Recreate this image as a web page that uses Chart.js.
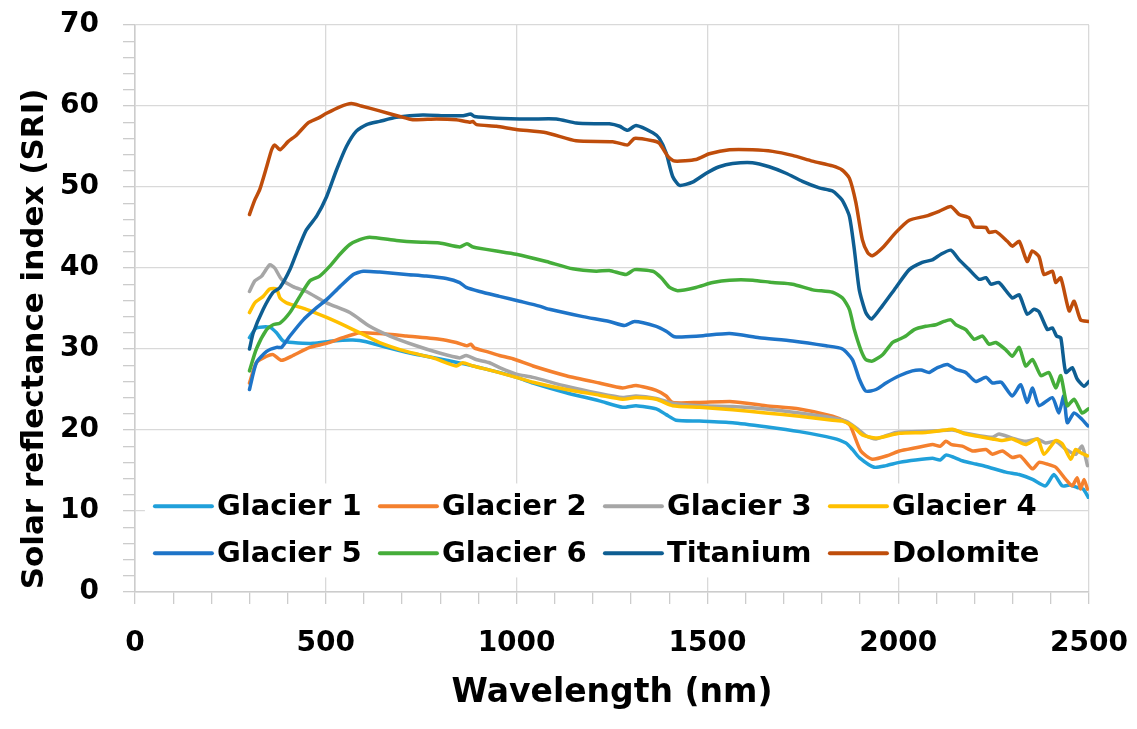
<!DOCTYPE html>
<html>
<head>
<meta charset="utf-8">
<script src="https://cdn.jsdelivr.net/npm/chart.js@4/dist/chart.umd.min.js"></script>
<style>
  html, body { margin: 0; padding: 0; background: #ffffff; }
  #c { display: block; }
</style>
</head>
<body>
<canvas id="c" width="1137" height="729"></canvas>
<script>
// ---------- data ----------
const seriesNames = ['Glacier 1', 'Glacier 2', 'Glacier 3', 'Glacier 4', 'Glacier 5', 'Glacier 6', 'Titanium', 'Dolomite'];
const seriesColors = ['#20a0da', '#f4802e', '#a6a6a6', '#ffc000', '#1e74c8', '#45ad3a', '#0e5e92', '#bf4d0b'];

const xTickLabels = [0, 500, 1000, 1500, 2000, 2500];
const yTickLabels = [0, 10, 20, 30, 40, 50, 60, 70];

const g1Wl = [300,318,353,371,388,414,467,519,571,606,659,711,763,816,868,938,1000,1043,1130,1217,1278,1313,1366,1392,1418,1479,1566,1653,1741,1828,1863,1880,1898,1937,1968,2003,2046,2090,2110,2125,2142,2168,2203,2230,2282,2317,2352,2386,2408,2430,2450,2469,2485,2498];
const g1Val = [31.4,32.6,32.7,32.0,31.0,30.8,30.7,31.0,31.1,30.9,30.2,29.6,29.1,28.6,28.1,27.3,26.5,25.8,24.6,23.6,22.8,23.0,22.6,21.9,21.2,21.1,20.9,20.4,19.8,19.0,18.4,17.6,16.6,15.4,15.6,16.0,16.3,16.5,16.3,16.9,16.7,16.2,15.8,15.5,14.8,14.5,13.9,13.1,14.5,13.1,13.2,12.9,12.7,11.7];

const g2Wl = [300,318,345,362,384,414,458,502,545,589,641,711,798,842,870,880,890,920,955,990,1043,1130,1217,1278,1313,1366,1392,1409,1479,1566,1653,1741,1828,1863,1875,1902,1932,1976,2003,2046,2090,2110,2125,2140,2168,2195,2230,2247,2273,2299,2320,2352,2369,2390,2413,2439,2456,2469,2478,2487,2496];
const g2Val = [25.8,28.3,29.1,29.3,28.6,29.2,30.2,30.7,31.4,32.0,31.9,31.6,31.2,30.8,30.4,30.6,30.1,29.7,29.2,28.8,27.9,26.7,25.8,25.2,25.5,24.9,24.2,23.4,23.4,23.5,23.0,22.6,21.7,21.0,20.5,17.4,16.4,16.9,17.4,17.8,18.2,18.0,18.6,18.2,18.0,17.4,17.6,17.0,17.4,16.6,16.8,15.2,16.0,15.8,15.4,13.9,13.1,14.1,12.7,13.9,12.7];

const g3Wl = [300,314,332,353,366,384,414,449,502,563,615,668,737,798,851,868,894,929,960,999,1043,1130,1217,1278,1313,1366,1409,1479,1566,1653,1741,1828,1863,1889,1915,1942,1994,2050,2100,2142,2177,2212,2247,2264,2299,2334,2365,2386,2413,2440,2465,2482,2496];
const g3Val = [37.1,38.4,39.0,40.4,40.0,38.6,37.7,37.1,35.7,34.5,32.8,31.6,30.4,29.5,28.9,29.2,28.7,28.3,27.6,26.9,26.5,25.4,24.5,24.0,24.2,23.9,23.3,23.0,22.9,22.6,22.1,21.5,21.1,20.3,19.3,18.9,19.7,19.8,19.9,20.0,19.6,19.3,19.1,19.5,19.0,18.6,18.9,18.4,18.6,17.6,17.0,18.0,15.6];

const g4Wl = [300,314,336,353,371,380,397,449,502,554,598,641,711,781,842,859,886,938,999,1043,1130,1217,1278,1313,1366,1409,1479,1566,1653,1741,1828,1854,1880,1906,1942,2003,2072,2110,2142,2177,2212,2247,2273,2299,2334,2365,2382,2413,2430,2452,2465,2478,2496];
const g4Val = [34.5,35.7,36.5,37.4,37.4,36.3,35.7,34.9,33.9,32.8,31.8,30.8,29.7,28.9,27.9,28.3,27.9,27.3,26.5,25.9,25.0,24.3,23.8,24.0,23.8,23.0,22.8,22.5,22.1,21.7,21.2,21.1,20.5,19.4,19.0,19.6,19.7,19.9,20.1,19.5,19.2,18.9,18.7,18.9,18.2,18.9,17.0,18.7,18.3,16.4,17.6,17.2,16.8];

const g5Wl = [300,318,345,371,384,406,441,476,502,537,572,598,641,711,763,816,851,868,903,955,1008,1060,1086,1174,1243,1283,1309,1366,1392,1414,1479,1558,1636,1723,1811,1854,1880,1898,1915,1942,1968,2003,2037,2060,2081,2103,2129,2151,2177,2203,2230,2247,2270,2299,2321,2338,2352,2369,2404,2421,2434,2443,2461,2482,2497];
const g5Val = [25.0,28.3,29.7,30.2,30.2,31.6,33.6,35.1,36.1,37.7,39.2,39.6,39.5,39.2,39.0,38.7,38.2,37.6,37.1,36.5,35.9,35.3,34.9,34.0,33.4,32.9,33.4,32.8,32.2,31.5,31.6,31.9,31.4,31.0,30.4,30.0,28.7,26.3,24.8,25.0,25.8,26.7,27.3,27.4,27.1,27.7,28.1,27.5,27.1,26.0,26.5,25.8,25.9,24.2,25.6,23.4,25.2,23.0,24.0,22.1,24.2,20.9,22.1,21.3,20.5];

const g6Wl = [300,318,345,362,380,406,432,458,484,510,537,563,589,615,685,737,798,851,870,885,894,947,999,1078,1147,1209,1243,1287,1309,1357,1379,1401,1422,1470,1514,1558,1619,1671,1723,1776,1828,1854,1872,1885,1902,1915,1932,1959,1985,2003,2020,2042,2072,2099,2120,2138,2151,2177,2199,2221,2238,2256,2282,2299,2317,2334,2352,2374,2395,2413,2426,2443,2461,2482,2498];
const g6Val = [27.3,30.0,32.4,33.0,33.2,34.5,36.5,38.4,39.0,40.2,41.7,42.9,43.5,43.8,43.4,43.2,43.1,42.6,43.0,42.6,42.5,42.1,41.7,40.8,39.9,39.6,39.7,39.2,39.8,39.6,38.8,37.6,37.2,37.6,38.2,38.5,38.5,38.2,38.0,37.3,37.0,36.3,34.9,32.4,29.9,28.7,28.5,29.3,30.8,31.2,31.6,32.4,32.8,33.0,33.4,33.6,33.0,32.4,31.2,31.6,30.6,30.8,29.9,29.1,30.2,27.9,28.7,26.7,27.1,25.2,26.7,23.0,23.8,22.1,22.6];

const tiWl = [300,310,336,362,380,406,427,449,476,502,528,554,580,607,641,685,754,816,860,880,890,947,1034,1104,1156,1209,1243,1270,1291,1313,1357,1374,1392,1409,1427,1461,1497,1531,1566,1618,1662,1706,1749,1793,1828,1853,1872,1885,1898,1915,1930,1958,1994,2029,2063,2089,2112,2138,2160,2186,2212,2230,2243,2264,2299,2317,2338,2356,2369,2391,2404,2415,2426,2439,2456,2469,2487,2500];
const tiVal = [30.0,32.0,34.9,37.0,37.6,39.8,42.3,44.7,46.4,48.8,52.1,55.0,56.9,57.7,58.1,58.6,58.9,58.8,58.8,59.0,58.7,58.5,58.4,58.4,57.9,57.8,57.8,57.5,57.0,57.6,56.7,56.0,54.2,51.3,50.2,50.6,51.7,52.5,52.9,53.0,52.5,51.7,50.7,49.9,49.5,48.4,46.4,42.3,37.3,34.5,33.7,35.3,37.6,39.8,40.7,41.0,41.7,42.2,41.0,39.8,38.6,38.8,38.0,38.2,36.3,36.7,34.3,34.9,34.6,32.4,32.6,31.6,31.4,27.1,27.7,26.3,25.4,26.0];

const doWl = [300,314,327,345,358,366,380,401,423,453,480,502,537,567,593,641,694,728,790,842,877,885,895,947,999,1078,1156,1252,1291,1309,1357,1374,1396,1414,1470,1505,1558,1618,1671,1723,1775,1828,1853,1872,1889,1906,1920,1932,1959,1994,2029,2072,2107,2138,2160,2186,2199,2230,2238,2256,2286,2299,2317,2338,2351,2369,2382,2404,2413,2426,2448,2461,2478,2500];
const doVal = [46.6,48.4,49.7,52.5,54.6,55.2,54.6,55.6,56.4,57.9,58.5,59.1,59.9,60.3,60.0,59.4,58.7,58.3,58.4,58.3,58.0,58.1,57.7,57.5,57.1,56.7,55.7,55.6,55.2,56.0,55.7,55.4,53.8,53.2,53.4,54.1,54.6,54.6,54.4,53.9,53.2,52.6,52.1,51.1,48.1,43.5,41.9,41.5,42.5,44.4,45.9,46.4,47.0,47.6,46.6,46.2,45.1,45.0,44.4,44.5,43.3,42.7,43.3,40.8,42.1,41.4,39.2,39.6,38.2,38.8,34.7,35.9,33.6,33.4];

const seriesWl = [g1Wl, g2Wl, g3Wl, g4Wl, g5Wl, g6Wl, tiWl, doWl];
const seriesVal = [g1Val, g2Val, g3Val, g4Val, g5Val, g6Val, tiVal, doVal];

// ---------- chart ----------
const FONT = 'DejaVu Sans';
const GRID = '#d9d9d9';
const TICK = '#cccccc';

const datasets = seriesNames.map((name, i) => ({
  label: name,
  data: seriesWl[i].map((w, k) => ({ x: w, y: seriesVal[i][k] })),
  borderColor: seriesColors[i],
  backgroundColor: seriesColors[i],
  borderWidth: 3.5,
  pointRadius: 0,
  tension: 0.2,
  borderCapStyle: 'round',
  borderJoinStyle: 'round',
  fill: false,
  order: seriesNames.length - i
}));

const legendPlugin = {
  id: 'insideLegend',
  afterDraw(chart) {
    const ctx = chart.ctx;
    const xs = chart.scales.x, ys = chart.scales.y;
    ctx.save();
    const boxL = xs.getPixelForValue(26), boxR = xs.getPixelForValue(2310);
    const boxT = ys.getPixelForValue(13.4), boxB = ys.getPixelForValue(1.8);
    ctx.fillStyle = '#ffffff';
    ctx.fillRect(boxL, boxT, boxR - boxL, boxB - boxT);
    ctx.font = 'bold 29px "' + FONT + '"';
    ctx.textBaseline = 'middle';
    ctx.textAlign = 'left';
    const colW = 225, rowH = 47;
    const x0 = boxL + 10, y0 = ys.getPixelForValue(10.6);
    chart.data.datasets.forEach((ds, i) => {
      const col = i % 4, row = Math.floor(i / 4);
      const lx = x0 + col * colW, ly = y0 + row * rowH;
      ctx.strokeStyle = ds.borderColor;
      ctx.lineWidth = 4;
      ctx.lineCap = 'round';
      ctx.beginPath();
      ctx.moveTo(lx, ly);
      ctx.lineTo(lx + 57, ly);
      ctx.stroke();
      ctx.fillStyle = '#000000';
      ctx.fillText(ds.label, lx + 62, ly + 1);
    });
    ctx.restore();
  }
};

const yTitlePlugin = {
  id: 'yTitle',
  afterDraw(chart) {
    const ctx = chart.ctx;
    ctx.save();
    ctx.translate(43, 339);
    ctx.rotate(-Math.PI / 2);
    ctx.font = 'bold 31px "' + FONT + '"';
    ctx.fillStyle = '#000000';
    ctx.textAlign = 'center';
    ctx.textBaseline = 'alphabetic';
    ctx.fillText('Solar reflectance index (SRI)', 0, 0);
    ctx.restore();
  }
};

new Chart(document.getElementById('c'), {
  type: 'line',
  data: { datasets },
  plugins: [legendPlugin, yTitlePlugin],
  options: {
    responsive: false,
    animation: false,
    events: [],
    layout: { padding: { top: 25, right: 48, left: 0, bottom: 0 } },
    plugins: { legend: { display: false }, tooltip: { enabled: false } },
    scales: {
      x: {
        type: 'linear',
        min: 0,
        max: 2500,
        afterFit(s) { s.height = 137; s.paddingLeft = 0; s.paddingRight = 0; },
        ticks: {
          stepSize: 100,
          autoSkip: false,
          maxRotation: 0,
          padding: 23,
          color: '#000000',
          font: { family: FONT, size: 28, weight: 'bold' },
          callback: v => (xTickLabels.includes(v) ? String(v) : '')
        },
        grid: {
          color: c => (c.tick && c.tick.value % 500 === 0 ? GRID : 'rgba(0,0,0,0)'),
          tickColor: TICK,
          lineWidth: 1.3,
          tickLength: 12,
          drawTicks: true
        },
        border: { color: TICK, width: 1.5 },
        title: {
          display: true,
          text: 'Wavelength (nm)',
          color: '#000000',
          font: { family: FONT, size: 33, weight: 'bold' },
          padding: { top: 0, bottom: 16 }
        }
      },
      y: {
        min: 0,
        max: 70,
        afterFit(s) { s.width = 135; s.paddingTop = 0; s.paddingBottom = 0; },
        ticks: {
          stepSize: 2,
          autoSkip: false,
          padding: 24,
          color: '#000000',
          font: { family: FONT, size: 28, weight: 'bold' },
          callback: v => (yTickLabels.includes(v) ? String(v) : '')
        },
        grid: {
          color: c => (c.tick && c.tick.value % 10 === 0 ? GRID : 'rgba(0,0,0,0)'),
          tickColor: TICK,
          lineWidth: 1.3,
          tickLength: 12,
          drawTicks: true
        },
        border: { color: TICK, width: 1.5 }
      }
    }
  }
});
</script>
</body>
</html>
